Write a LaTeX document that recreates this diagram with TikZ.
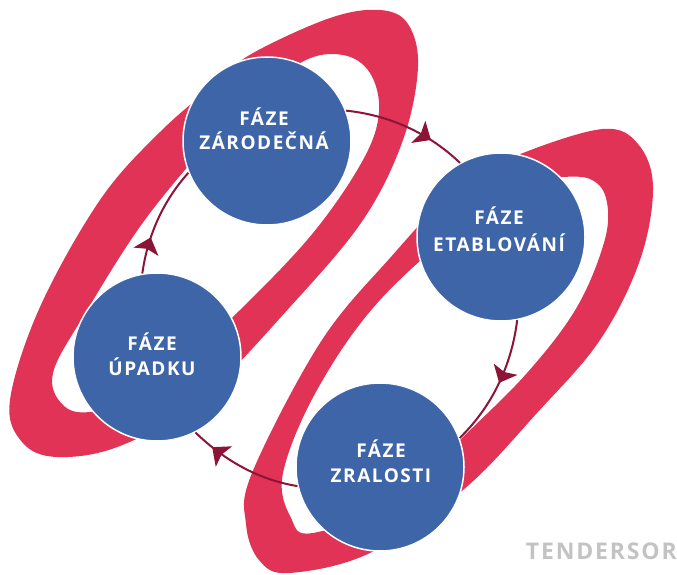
\documentclass[tikz,border=0pt]{standalone}
\usepackage{fontspec}
\newfontfamily\labfont{Open Sans}[LetterSpace=8]
\usetikzlibrary{arrows.meta,decorations.markings}
\definecolor{ringred}{HTML}{E03355}
\definecolor{phaseblue}{HTML}{3E65A8}
\definecolor{arcred}{HTML}{8C1437}
\definecolor{markgray}{HTML}{C3C3C3}
\begin{document}
\begin{tikzpicture}[x=1pt,y=1pt,
 phase/.style={circle, fill=phaseblue, draw=white, line width=1.5pt, minimum size=168pt, inner sep=0pt},
 lbl/.style={anchor=base, text=white, font=\labfont\bfseries\fontsize{19}{24}\selectfont, inner sep=0pt},
 ring/.style={fill=ringred, even odd rule},
 cyc/.style={draw=arcred, line width=2pt, looseness=0.88},
 midarrow/.style={postaction={decorate, decoration={markings, mark=at position #1 with {\arrow{Stealth[length=15pt,width=26pt,inset=3pt]}}}}},
]
\useasboundingbox (0,0) rectangle (677,574);
% left ring
\path[ring]
 plot[smooth cycle, tension=0.6] coordinates {(253,521) (330,556) (380,564) (408,550) (418,507) (403,434) (363,354) (290,267) (200,174) (120,128) (57,117) (22,132) (10,174) (40,267) (100,374) (160,442) (220,494)}
 plot[smooth cycle, tension=0.6] coordinates {(302,512) (343,519) (370,501) (379,462) (363,414) (313,341) (240,264) (150,180) (90,162) (62,170) (53,201) (83,257) (150,361) (240,464)};
% right ring
\path[ring]
 plot[smooth cycle, tension=0.6] coordinates {(523,421) (603,445) (638,430) (653,387) (640,314) (600,234) (537,161) (463,84) (370,21) (289,1) (259,14) (246,50) (252,101) (320,231) (390,316) (460,389)}
 plot[smooth cycle, tension=0.6] coordinates {(560,397) (590,395) (606,376) (605,335) (577,267) (527,201) (460,134) (400,74) (313,41) (291,56) (283,101) (317,184) (380,274) (480,364) (530,394)};
% phases
\node[phase] (A) at (267,433) {};
\node[phase] (B) at (501,337) {};
\node[phase] (C) at (380,107) {};
\node[phase] (D) at (157,217) {};
% cycle
\draw[cyc, midarrow=0.71] (A.21) to[out=-6, in=136] (B.119);
\draw[cyc, midarrow=0.49] (B.-79) to[out=-97, in=44] (C.20);
\draw[cyc, midarrow=0.81] (C.193) to[out=171, in=-44] (D.-63);
\draw[cyc, midarrow=0.33] (D.100) to[out=82, in=228] (A.202);
% labels
\node[lbl] (A1) at (264,448) {FÁZE};
\node[lbl] (A2) at (264,424) {ZÁRODEČNÁ};
\node[lbl] (B1) at (499,349) {FÁZE};
\node[lbl] (B2) at (499,323) {ETABLOVÁNÍ};
\node[lbl] (C1) at (381,117) {FÁZE};
\node[lbl] (C2) at (381,92) {ZRALOSTI};
\node[lbl] (D1) at (152,224) {FÁZE};
\node[lbl] (D2) at (152,199) {ÚPADKU};
\node[anchor=base east, inner sep=0pt, text=markgray, font=\labfont\bfseries\fontsize{23}{28}\selectfont] (W) at (677,15) {TENDERSOR};
\end{tikzpicture}
\end{document}
